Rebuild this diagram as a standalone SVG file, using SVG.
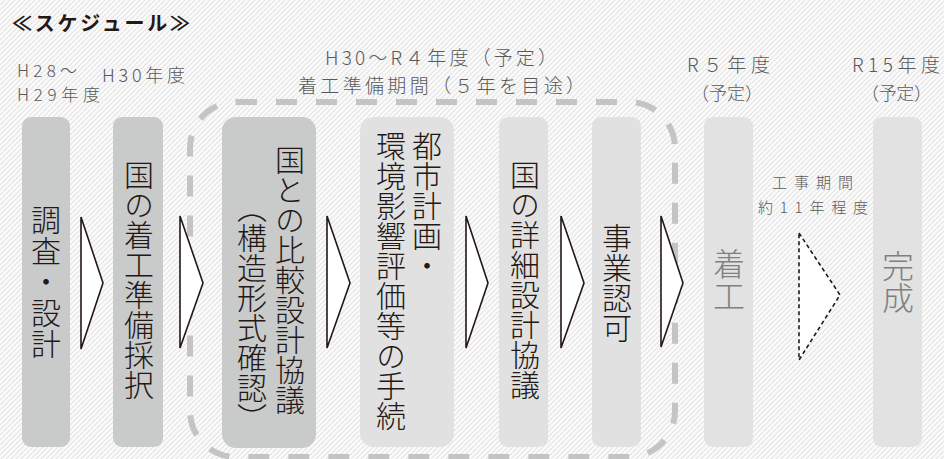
<svg xmlns="http://www.w3.org/2000/svg" width="944" height="459" viewBox="0 0 944 459">
<defs>
<pattern id="hatch" patternUnits="userSpaceOnUse" width="5" height="5">
<rect width="5" height="5" fill="#fbfbfb"/>
<path d="M-1,6 L6,-1 M-1,1 L1,-1 M4,6 L6,4" stroke="#e4e4e4" stroke-width="1.2"/>
</pattern>
<style>
.lbl{font-family:"Noto Sans CJK JP","Noto Sans",sans-serif;fill:#595959;font-weight:300}
.vt{font-family:"Noto Sans CJK JP",sans-serif;font-size:30px;fill:#231815;writing-mode:vertical-rl;font-weight:300}
.vg{font-family:"Noto Sans CJK JP",sans-serif;font-size:32px;fill:#808080;writing-mode:vertical-rl;font-weight:300}
.dk{fill:#c9caca}
.lt{fill:#e1e1e1}
.arr{fill:#ffffff;stroke:#231815;stroke-width:1.6;stroke-linejoin:miter}
.arrd{fill:#ffffff;stroke:#231815;stroke-width:1.6;stroke-dasharray:4 3}
</style>
</defs>
<rect width="944" height="459" fill="url(#hatch)"/>
<text x="12" y="31" font-family="Noto Sans CJK JP,sans-serif" font-weight="bold" font-size="20" fill="#231815" textLength="178" lengthAdjust="spacing">≪スケジュール≫</text>
<g id="labels" class="lbl">
<text x="17" y="77" font-size="17" textLength="60" lengthAdjust="spacing">H28～</text>
<text x="17" y="101" font-size="17" textLength="83" lengthAdjust="spacing">H29年度</text>
<text x="102" y="82" font-size="18" textLength="83" lengthAdjust="spacing">H30年度</text>
<text x="325" y="65" font-size="19" textLength="232" lengthAdjust="spacing">H30～R４年度（予定）</text>
<text x="298" y="93" font-size="19" textLength="287" lengthAdjust="spacing">着工準備期間（５年を目途）</text>
<text x="687" y="72" font-size="19" textLength="83" lengthAdjust="spacing">R５年度</text>
<text x="691" y="100" font-size="18" textLength="72" lengthAdjust="spacing">（予定）</text>
<text x="852" y="72" font-size="19" textLength="88" lengthAdjust="spacing">R15年度</text>
<text x="861" y="100" font-size="18" textLength="71" lengthAdjust="spacing">（予定）</text>
<text x="772" y="188" font-size="15" textLength="81" lengthAdjust="spacing">工事期間</text>
<text x="758" y="213" font-size="15" textLength="110" lengthAdjust="spacing">約11年程度</text>
</g>
<rect id="period" x="190" y="102" width="485" height="355" rx="46" ry="46" fill="none" stroke="#c4c4c4" stroke-width="6" stroke-dasharray="21 19"/>
<g id="n1"><rect class="dk" x="22" y="117" width="48" height="330" rx="9"/><text class="vt" x="46" y="205" letter-spacing="1">調査・設計</text></g>
<g id="n2"><rect class="dk" x="113" y="117" width="50" height="330" rx="9"/><text class="vt" x="139" y="160">国の着工準備採択</text></g>
<g id="n3"><rect class="dk" x="222" y="117" width="94" height="331" rx="14"/><text class="vt" x="290" y="145">国との比較設計協議</text><text class="vt" x="252" y="193">（構造形式確認）</text></g>
<g id="n4"><rect class="lt" x="360" y="117" width="94" height="330" rx="14"/><text class="vt" x="427" y="131">都市計画・</text><text class="vt" x="391" y="131">環境影響評価等の手続</text></g>
<g id="n5"><rect class="lt" x="499" y="117" width="49" height="330" rx="9"/><text class="vt" x="525" y="160">国の詳細設計協議</text></g>
<g id="n6"><rect class="lt" x="592" y="117" width="49" height="330" rx="9"/><text class="vt" x="617" y="223">事業認可</text></g>
<g id="n7"><rect fill="#e2e2e2" x="704" y="117" width="49" height="330" rx="9"/><text class="vg" x="729" y="248">着工</text></g>
<g id="n8"><rect fill="#e2e2e2" x="873" y="117" width="49" height="330" rx="9"/><text class="vg" x="898" y="250">完成</text></g>
<g id="connectors">
<polygon class="arr" points="81,217 103,283 81,349"/>
<polygon class="arr" points="180,216 203,283 180,348"/>
<polygon class="arr" points="327,216 350,283 327,348"/>
<polygon class="arr" points="466,216 488,283 466,348"/>
<polygon class="arr" points="561,216 584,283 561,348"/>
<polygon class="arr" points="661,216 683,283 661,347"/>
<polygon class="arrd" points="799,233 840,295 799,360"/>
</g>
</svg>
